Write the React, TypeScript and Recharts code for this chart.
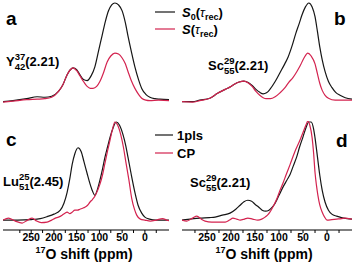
import React from "react";
import { LineChart, Line, XAxis, YAxis } from "recharts";

// ---- Panel a: Y(2.21), S0 vs S ----
const aBlackPpm = [312, 290, 260, 237, 220, 205, 190, 180, 171, 164, 158, 150, 143, 135, 127, 118, 110, 102, 94, 87, 80, 73, 66, 58, 50, 43, 37, 30, 22, 14, 7, -2, -11, -22, -33, -53];
const aBlackI = [-0.015, -0.005, 0.015, 0.035, 0.03, 0.04, 0.09, 0.16, 0.26, 0.31, 0.33, 0.31, 0.26, 0.21, 0.2, 0.25, 0.34, 0.5, 0.66, 0.8, 0.91, 0.97, 0.99, 0.97, 0.91, 0.79, 0.65, 0.5, 0.34, 0.21, 0.12, 0.06, 0.03, 0.015, 0.01, 0.005];
const aRedPpm = [312, 290, 260, 237, 220, 205, 190, 180, 171, 164, 158, 150, 143, 135, 127, 120, 114, 106, 99, 91, 83, 75, 66, 58, 50, 43, 37, 30, 22, 14, 7, -2, -11, -30, -53];
const aRedI = [-0.02, -0.01, 0.005, 0.01, 0.015, 0.03, 0.09, 0.16, 0.26, 0.31, 0.33, 0.3, 0.25, 0.19, 0.14, 0.12, 0.12, 0.14, 0.19, 0.28, 0.39, 0.45, 0.48, 0.47, 0.43, 0.37, 0.29, 0.2, 0.12, 0.06, 0.02, 0, -0.005, 0, -0.005];

// ---- Panel b: Sc(2.21), S0 vs S ----
const bBlackPpm = [302, 280, 265, 244, 228, 212, 200, 192, 183, 173, 164, 156, 148, 140, 133, 126, 119, 108, 98, 88, 81, 73, 65, 58, 52, 45, 38, 31, 25, 20, 15, 10, 4, -3, -10, -18, -27, -38, -52];
const bBlackI = [-0.015, -0.015, 0, 0.02, 0.07, 0.11, 0.14, 0.165, 0.185, 0.195, 0.18, 0.15, 0.11, 0.08, 0.065, 0.075, 0.11, 0.19, 0.28, 0.37, 0.44, 0.55, 0.68, 0.78, 0.87, 0.95, 0.99, 0.95, 0.85, 0.7, 0.54, 0.41, 0.29, 0.19, 0.13, 0.08, 0.05, 0.025, 0.01];
const bRedPpm = [302, 280, 265, 244, 228, 212, 200, 192, 183, 173, 164, 156, 148, 140, 133, 127, 118, 108, 98, 88, 80, 71, 63, 56, 48, 40, 33, 25, 20, 15, 10, 4, -3, -17, -35, -52];
const bRedI = [-0.015, -0.02, -0.005, 0.02, 0.07, 0.11, 0.14, 0.165, 0.185, 0.195, 0.175, 0.14, 0.09, 0.05, 0.025, 0.015, 0.015, 0.035, 0.075, 0.125, 0.18, 0.23, 0.29, 0.35, 0.43, 0.48, 0.45, 0.37, 0.27, 0.17, 0.1, 0.05, 0.02, 0, 0, 0];

// ---- Panel c: Lu(2.45), 1pls vs CP ----
const cBlackPpm = [312, 280, 250, 230, 215, 200, 186, 178, 171, 165, 160, 154, 147, 140, 134, 127, 121, 115, 110, 105, 99, 93, 88, 82, 77, 70, 63, 56, 48, 42, 37, 30, 22, 15, 7, 0, -10, -25, -40, -53];
const cBlackI = [0, 0, 0.005, 0.015, 0.035, 0.06, 0.1, 0.17, 0.28, 0.42, 0.56, 0.67, 0.73, 0.69, 0.59, 0.47, 0.37, 0.29, 0.25, 0.3, 0.4, 0.52, 0.63, 0.74, 0.83, 0.93, 0.99, 0.96, 0.86, 0.75, 0.63, 0.46, 0.28, 0.15, 0.07, 0.03, 0.01, 0, 0, 0];
const cRedPpm = [312, 300, 285, 270, 258, 248, 238, 228, 215, 205, 197, 190, 182, 176, 171, 165, 160, 154, 148, 143, 137, 132, 126, 121, 115, 110, 104, 99, 93, 88, 82, 77, 71, 66, 60, 53, 47, 42, 35, 29, 23, 18, 10, 0, -12, -25, -39, -48, -53];
const cRedI = [0, 0.02, -0.01, -0.03, 0, 0.02, -0.01, -0.025, -0.02, 0, 0.02, 0.03, 0.05, 0.07, 0.08, 0.065, 0.08, 0.1, 0.1, 0.11, 0.12, 0.13, 0.15, 0.18, 0.21, 0.24, 0.3, 0.36, 0.46, 0.57, 0.7, 0.8, 0.92, 0.99, 0.96, 0.86, 0.73, 0.59, 0.4, 0.22, 0.11, 0.05, 0.01, 0, -0.01, 0, 0.015, 0, -0.005];

// ---- Panel d: Sc(2.21), 1pls vs CP ----
const dBlackPpm = [302, 285, 265, 245, 233, 218, 202, 190, 181, 173, 165, 157, 150, 142, 135, 128, 121, 114, 108, 100, 92, 84, 77, 70, 63, 57, 50, 44, 38, 33, 28, 25, 20, 15, 10, 4, -3, -10, -20, -30, -42, -52];
const dBlackI = [0, 0.01, 0.02, 0.025, 0.03, 0.05, 0.07, 0.11, 0.15, 0.185, 0.2, 0.19, 0.16, 0.13, 0.1, 0.09, 0.1, 0.13, 0.17, 0.25, 0.33, 0.4, 0.46, 0.55, 0.64, 0.74, 0.84, 0.93, 0.99, 0.99, 0.92, 0.83, 0.64, 0.45, 0.3, 0.18, 0.1, 0.06, 0.04, 0.025, 0.015, 0.01];
const dRedPpm = [302, 292, 280, 271, 262, 254, 240, 225, 212, 203, 196, 188, 181, 172, 165, 155, 144, 136, 129, 124, 119, 112, 104, 98, 92, 85, 77, 67, 56, 48, 43, 40, 36, 31, 28, 25, 22, 19, 15, 10, 5, 0, -10, -20, -30, -37, -45, -52];
const dRedI = [0, -0.01, 0.02, 0.04, 0.01, -0.01, -0.02, -0.02, -0.02, 0, 0.02, 0.01, 0, 0.01, 0.02, 0.01, 0, 0.01, 0.03, 0.05, 0.08, 0.14, 0.22, 0.3, 0.37, 0.46, 0.56, 0.69, 0.81, 0.91, 0.97, 1.0, 0.96, 0.83, 0.68, 0.48, 0.35, 0.25, 0.15, 0.08, 0.03, 0, 0.005, 0.01, 0.015, 0.02, 0.015, 0.01];

// ---- Axis ticks ----
const tickValues = [275, 250, 225, 200, 175, 150, 125, 100, 75, 50, 25, 0, -25];
const tickLabels = ["250", "200", "150", "100", "50", "0"];

const BLACK = "#161616";
const RED = "#d3234f";
const FONT = "'Liberation Sans', Arial, Helvetica, sans-serif";

const zip = (p: number[], v: number[]) => p.map((x, i) => ({ x, y: v[i] }));

type PanelProps = {
  left: number;
  top: number;
  width: number;
  height: number;
  margin: { top: number; right: number; bottom: number; left: number };
  domainX: [number, number];
  black: { x: number; y: number }[];
  red: { x: number; y: number }[];
  showAxis: boolean;
};

const fmt = (v: number) => {
  const s = String(v);
  return tickLabels.includes(s) ? s : "";
};

function Panel(p: PanelProps) {
  return (
    <div style={{ position: "absolute", left: p.left, top: p.top }}>
      <LineChart width={p.width} height={p.height} margin={p.margin}>
        <XAxis
          type="number"
          dataKey="x"
          domain={p.domainX}
          reversed
          allowDataOverflow
          hide={!p.showAxis}
          ticks={tickValues}
          tickFormatter={fmt}
          interval={0}
          tickSize={3}
          tickMargin={1}
          height={30}
          axisLine={{ stroke: "#000", strokeWidth: 1.2 }}
          tickLine={{ stroke: "#000", strokeWidth: 1 }}
          tick={{ fill: "#000", fontSize: 10.5, fontWeight: 700, fontFamily: FONT }}
        />
        <YAxis type="number" dataKey="y" domain={[-0.1, 1]} hide allowDataOverflow />
        <Line
          data={p.black}
          dataKey="y"
          type="monotone"
          stroke={BLACK}
          strokeWidth={1.2}
          dot={false}
          isAnimationActive={false}
        />
        <Line
          data={p.red}
          dataKey="y"
          type="monotone"
          stroke={RED}
          strokeWidth={1.2}
          dot={false}
          isAnimationActive={false}
        />
      </LineChart>
    </div>
  );
}

function Compound(props: { x: number; y: number; base: string; sup: string; sub: string; tail: string }) {
  const sfs = 9.5;
  const w = props.sup.length * 0.556 * sfs;
  return (
    <text x={props.x} y={props.y} fontSize={13} fontWeight={700} fontFamily={FONT} fill="#000">
      {props.base}
      <tspan fontSize={sfs} dy={-6}>{props.sup}</tspan>
      <tspan fontSize={sfs} dx={-w} dy={10}>{props.sub}</tspan>
      <tspan dy={-4}>{props.tail}</tspan>
    </text>
  );
}

function SLegend(props: { x: number; y: number; zero: boolean }) {
  return (
    <text x={props.x} y={props.y} fontSize={13} fontWeight={700} fontFamily={FONT} fill="#000">
      <tspan fontStyle="italic">S</tspan>
      {props.zero ? <tspan fontSize={9} dy={3}>0</tspan> : null}
      <tspan dy={props.zero ? -3 : 0}>(</tspan>
      <tspan fontStyle="italic" fontWeight={400}>τ</tspan>
      <tspan fontSize={9} dy={3}>rec</tspan>
      <tspan dy={-3}>)</tspan>
    </text>
  );
}

function AxisTitle(props: { cx: number; y: number }) {
  return (
    <text x={props.cx} y={props.y} textAnchor="middle" fontSize={14} fontWeight={700} fontFamily={FONT} fill="#000">
      <tspan fontSize={9} dy={-6}>17</tspan>
      <tspan dy={6}>O shift (ppm)</tspan>
    </text>
  );
}

export default function App() {
  const topMargin = { top: 2, right: 6, bottom: 0, left: 3 };
  const topMarginR = { top: 2, right: 1, bottom: 0, left: 7 };
  const botMargin = { top: 6, right: 6, bottom: 7, left: 3 };
  const botMarginR = { top: 6, right: 1, bottom: 7, left: 7 };
  return (
    <div style={{ position: "absolute", left: 0, top: 0, width: 353, height: 267, background: "#fff", overflow: "hidden" }}>
      <Panel left={0} top={0} width={175} height={110} margin={topMargin} domainX={[-53, 312]}
        black={zip(aBlackPpm, aBlackI)} red={zip(aRedPpm, aRedI)} showAxis={false} />
      <Panel left={175} top={0} width={178} height={110} margin={topMarginR} domainX={[-52, 302]}
        black={zip(bBlackPpm, bBlackI)} red={zip(bRedPpm, bRedI)} showAxis={false} />
      <Panel left={0} top={115} width={175} height={152} margin={botMargin} domainX={[-53, 312]}
        black={zip(cBlackPpm, cBlackI)} red={zip(cRedPpm, cRedI)} showAxis={true} />
      <Panel left={175} top={115} width={178} height={152} margin={botMarginR} domainX={[-52, 302]}
        black={zip(dBlackPpm, dBlackI)} red={zip(dRedPpm, dRedI)} showAxis={true} />
      <svg width={353} height={267} style={{ position: "absolute", left: 0, top: 0, pointerEvents: "none" }}>
        {/* panel letters */}
        <text x={6} y={25} fontSize={19} fontWeight={700} fontFamily={FONT}>a</text>
        <text x={334} y={25} fontSize={19} fontWeight={700} fontFamily={FONT}>b</text>
        <text x={6} y={146} fontSize={19} fontWeight={700} fontFamily={FONT}>c</text>
        <text x={336} y={147} fontSize={19} fontWeight={700} fontFamily={FONT}>d</text>
        {/* compound labels */}
        <Compound x={6} y={66} base="Y" sup="37" sub="42" tail="(2.21)" />
        <Compound x={208} y={70} base="Sc" sup="29" sub="55" tail="(2.21)" />
        <Compound x={3} y={186} base="Lu" sup="25" sub="51" tail="(2.45)" />
        <Compound x={190} y={187} base="Sc" sup="29" sub="55" tail="(2.21)" />
        {/* legend top */}
        <line x1={155} x2={175} y1={12} y2={12} stroke={BLACK} strokeWidth={1.2} />
        <SLegend x={182} y={17} zero={true} />
        <line x1={155} x2={175} y1={29} y2={29} stroke={RED} strokeWidth={1.2} />
        <SLegend x={182} y={34} zero={false} />
        {/* legend bottom */}
        <line x1={155} x2={173} y1={135} y2={135} stroke={BLACK} strokeWidth={1.2} />
        <text x={177} y={140} fontSize={13} fontWeight={700} fontFamily={FONT}>1pls</text>
        <line x1={155} x2={173} y1={153} y2={153} stroke={RED} strokeWidth={1.2} />
        <text x={177} y={158} fontSize={13} fontWeight={700} fontFamily={FONT}>CP</text>
        {/* axis titles */}
        <AxisTitle cx={84} y={259} />
        <AxisTitle cx={264} y={259} />
      </svg>
    </div>
  );
}
